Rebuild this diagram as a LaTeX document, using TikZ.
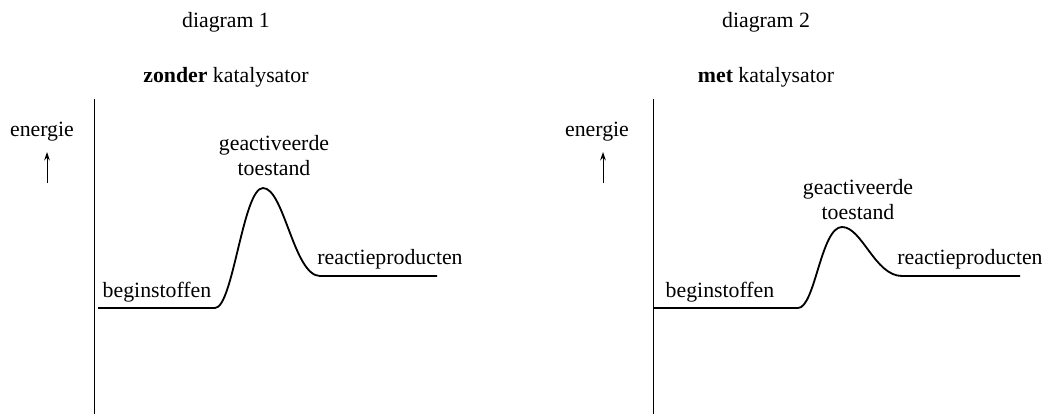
\documentclass[tikz,border=0pt]{standalone}
\usepackage{fontspec}
\setmainfont{Liberation Serif}
\usetikzlibrary{arrows.meta}
\tikzset{
	txt/.style={align=center, inner sep=0pt, font=\fontsize{15.5}{17.8}\selectfont},
	axis/.style={line width=0.7pt},
	curve/.style={line width=1.3pt, line join=round}
}

\begin{document}
\begin{tikzpicture}[x=0.025cm, y=-0.025cm]
	\useasboundingbox (0,0) rectangle (1048,414);

	% diagram 1
	\node[txt] at (226,22) (title-1) {diagram 1};
	\node[txt] at (226,77) (sub-1) {\textbf{zonder} katalysator};
	\node[txt] at (42,132) (energie-1) {energie};
	\coordinate (arrow-1-a) at (47,183);
	\coordinate (arrow-1-b) at (47,152);
	\draw[axis, -{Stealth[length=6pt, width=4pt]}] (arrow-1-a) -- (arrow-1-b);
	\coordinate (axis-1-top) at (94,99);
	\coordinate (axis-1-bot) at (94,414);
	\draw[axis] (axis-1-top) -- (axis-1-bot);
	\coordinate (start-1) at (98,308);
	\coordinate (rise-1) at (215,308);
	\coordinate (peak-1) at (263,188);
	\coordinate (fall-1) at (320,276);
	\coordinate (end-1) at (437,276);
	\draw[curve] (start-1) -- (rise-1) .. controls (233,308) and (243,188) .. (peak-1)
		.. controls (284,188) and (294,276) .. (fall-1) -- (end-1);
	\node[txt] at (157,292) (begin-1) {beginstoffen};
	\node[txt] at (274,156) (top-1) {geactiveerde\\toestand};
	\node[txt] at (390,259) (prod-1) {reactieproducten};

	% diagram 2
	\node[txt] at (766,22) (title-2) {diagram 2};
	\node[txt] at (766,77) (sub-2) {\textbf{met} katalysator};
	\node[txt] at (597,132) (energie-2) {energie};
	\coordinate (arrow-2-a) at (603,183);
	\coordinate (arrow-2-b) at (603,152);
	\draw[axis, -{Stealth[length=6pt, width=4pt]}] (arrow-2-a) -- (arrow-2-b);
	\coordinate (axis-2-top) at (653,99);
	\coordinate (axis-2-bot) at (653,414);
	\draw[axis] (axis-2-top) -- (axis-2-bot);
	\coordinate (start-2) at (654,308);
	\coordinate (rise-2) at (798,308);
	\coordinate (peak-2) at (842,227);
	\coordinate (fall-2) at (902,276);
	\coordinate (end-2) at (1020,276);
	\draw[curve] (start-2) -- (rise-2) .. controls (815,308) and (821,227) .. (peak-2)
		.. controls (862,227) and (875,276) .. (fall-2) -- (end-2);
	\node[txt] at (720,292) (begin-2) {beginstoffen};
	\node[txt] at (858,200) (top-2) {geactiveerde\\toestand};
	\node[txt] at (970,259) (prod-2) {reactieproducten};
\end{tikzpicture}
\end{document}
